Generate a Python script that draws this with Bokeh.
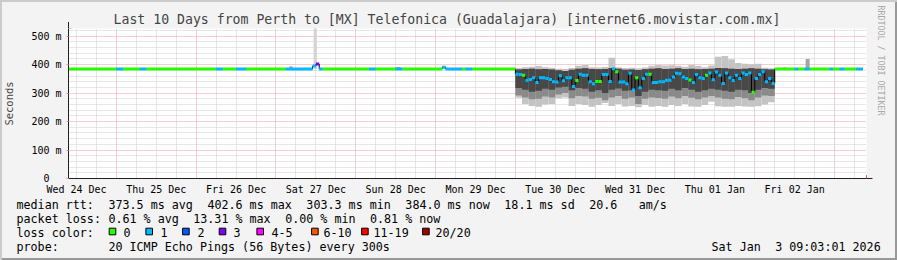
import math
from bokeh.plotting import figure
from bokeh.layouts import column
from bokeh.models import FixedTicker, Range1d, Title, Arrow, NormalHead
from bokeh.core.properties import value
from bokeh.embed import file_html
from bokeh.resources import INLINE

# ---------------- data ----------------
TITLE = "Last 10 Days from Perth to [MX] Telefonica (Guadalajara) [internet6.movistar.com.mx]"
Y_LABEL = "Seconds"
DAY_LABELS = ["Wed 24 Dec", "Thu 25 Dec", "Fri 26 Dec", "Sat 27 Dec", "Sun 28 Dec",
              "Mon 29 Dec", "Tue 30 Dec", "Wed 31 Dec", "Thu 01 Jan", "Fri 02 Jan"]
Y_TICKS = [0, 100, 200, 300, 400, 500]
Y_TICK_LABELS = ["0\u00a0\u00a0", "100 m", "200 m", "300 m", "400 m", "500 m"]

# time = hours since Wed 24 Dec 00:00 (local); rtt in ms
T_START = 9.6
T_END = 249.6
Y_MAX = 527

# quiet periods: median rtt segments with loss count (of 20 pings)
quiet_start = [9.6, 24, 26, 31, 33, 54, 56, 60, 63, 75, 83, 84, 85, 86, 100, 102, 108, 110,
               122, 123, 124, 128, 129, 131,
               222, 228, 229, 231, 232.5, 238.5, 239.5, 241.5, 243, 246.5]
quiet_end = [24, 26, 31, 33, 54, 56, 60, 63, 75, 83, 84, 85, 86, 100, 102, 108, 110, 122,
             123, 124, 128, 129, 131, 144,
             228, 229, 231, 232.5, 238.5, 239.5, 241.5, 243, 246.5, 248.5]
quiet_rtt = [385, 385, 385, 385, 385, 385, 385, 385, 385, 385, 395, 402, 385, 385, 385, 385, 385, 385,
             391, 385, 385, 385, 385, 385,
             385, 385, 385, 385, 385, 385, 385, 385, 385, 385]
quiet_loss = [0, 1, 0, 1, 0, 1, 0, 1, 0, 1, 1, 3, 1, 0, 1, 0, 1, 0,
              1, 1, 1, 0, 1, 0,
              0, 1, 0, 1, 0, 1, 0, 1, 0, 1]

# occasional ping outliers during quiet periods
spike_start = [76, 83.3, 108, 224.4, 231.3]
spike_end = [77, 84.3, 109.5, 225.3, 232.5]
spike_low = [385, 385, 385, 385, 385]
spike_high = [394, 560, 392, 391, 420]

# degraded period: hourly medians from hour 144 (Tue 30 Dec 00:00)
DEG_START = 144
deg_rtt = [366, 365, 363, 345, 348, 354, 337, 354, 354, 351,
           348, 340, 339, 361, 343, 354, 354, 323, 344, 366,
           363, 363, 340, 333, 341, 341, 365, 365, 341, 386,
           375, 339, 339, 333, 370, 311, 354, 319, 351, 366,
           366, 337, 337, 340, 340, 345, 345, 357, 370, 368,
           357, 351, 346, 337, 365, 354, 351, 363, 371, 347,
           374, 363, 334, 371, 354, 344, 363, 351, 371, 365,
           371, 303, 351, 365, 375, 340, 351, 334]
deg_loss = [1, 1, 0, 1, 1, 1, 1, 1, 1, 1,
            1, 1, 1, 1, 1, 1, 1, 1, 0, 1,
            1, 1, 1, 1, 0, 0, 1, 1, 1, 1,
            0, 1, 1, 1, 1, 1, 0, 1, 1, 1,
            0, 1, 1, 1, 1, 1, 1, 1, 1, 1,
            1, 1, 0, 1, 1, 1, 1, 0, 1, 1,
            1, 1, 1, 1, 1, 1, 1, 1, 1, 1,
            1, 0, 1, 1, 1, 1, 1, 1]

# smoke (ping distribution) in 2-hour columns from hour 144
SMOKE_STEP = 2
smoke_min = [284, 262, 255, 252, 260, 262, 282, 285, 255, 262, 258, 252, 258, 265, 255, 262, 253, 255, 250, 258,
             252, 255, 252, 258, 255, 262, 253, 252, 258, 270, 254, 252, 252, 255, 253, 252, 254, 260, 268]
smoke_p10 = [292, 285, 278, 280, 288, 285, 295, 300, 282, 290, 288, 280, 284, 275, 285, 290, 280, 285, 262, 280,
             285, 283, 280, 288, 282, 290, 284, 278, 285, 290, 285, 280, 278, 286, 282, 275, 285, 292, 290]
smoke_p25 = [318, 312, 305, 308, 315, 312, 320, 322, 310, 318, 315, 305, 310, 300, 312, 316, 308, 310, 290, 305,
             312, 310, 308, 315, 310, 318, 312, 305, 310, 315, 312, 308, 305, 312, 310, 300, 312, 318, 315]
smoke_p90 = [383, 385, 386, 384, 385, 383, 380, 378, 382, 386, 387, 385, 384, 385, 388, 386, 382, 383, 381, 384,
             386, 387, 385, 386, 387, 385, 386, 384, 385, 386, 388, 387, 386, 385, 386, 387, 386, 384, 383]
smoke_max = [388, 391, 393, 395, 391, 389, 386, 385, 388, 396, 399, 391, 390, 392, 424, 391, 388, 389, 387, 390,
             396, 399, 397, 398, 396, 393, 399, 395, 391, 397, 428, 430, 419, 406, 403, 401, 403, 389, 387]

# loss colour classes
LOSS_LIMITS = [0, 1, 2, 3, 5, 10, 19, 20]
LOSS_COLORS = ["#26ff00", "#00b8ff", "#0059ff", "#7e00ff", "#ff00ff", "#ff5500", "#ff0000", "#a00000"]
LOSS_NAMES = ["0", "1", "2", "3", "4-5", "6-10", "11-19", "20/20"]

LEGEND_RTT = ["median rtt:", "373.5 ms avg", "402.6 ms max", "303.3 ms min", "384.0 ms now",
              "18.1 ms sd", "20.6", "am/s"]
LEGEND_LOSS = ["packet loss:", "0.61 % avg", "13.31 % max", "0.00 % min", "0.81 % now"]
LEGEND_PROBE = ["probe:", "20 ICMP Echo Pings (56 Bytes) every 300s"]
STAMP = ["Sat Jan", "3 09:03:01 2026"]
WATERMARK = "RRDTOOL / TOBI OETIKER"

# ---------------- style ----------------
MONO = "DejaVu Sans Mono"
BG = "#f3f3f3"
AXIS = "#202020"
ARROW = "#8b1010"
MGRID = "#ee9c9c"
GRID = "#cfcfcf"
SMOKE_LIGHT = "#c4c4c4"
SMOKE_MED = "#8a8a8a"
SMOKE_DARK = "#484848"


def loss_color(n):
    for lim, c in zip(LOSS_LIMITS, LOSS_COLORS):
        if n <= lim:
            return c
    return LOSS_COLORS[-1]


# combined median segments
segs = list(zip(quiet_start, quiet_end, quiet_rtt, quiet_loss))
for i, (r, l) in enumerate(zip(deg_rtt, deg_loss)):
    segs.append((DEG_START + i, DEG_START + i + 1, r, l))
segs.sort(key=lambda s: s[0])

p = figure(width=897, height=198, x_range=Range1d(T_START, T_END), y_range=Range1d(0, Y_MAX),
           output_backend="svg", toolbar_location=None,
           min_border_left=67, min_border_right=30, min_border_top=28, min_border_bottom=20)
p.frame_align = False
p.background_fill_color = "white"
p.border_fill_color = None
p.outline_line_color = None

p.title.text = TITLE
p.title.align = "left"
p.title.offset = 45
p.title.text_font = MONO
p.title.text_font_size = "13.2px"
p.title.text_font_style = "normal"
p.title.standoff = 3

# grid
p.xgrid.ticker = FixedTicker(ticks=[24 * d for d in range(1, 11)],
                             minor_ticks=[6 * k for k in range(1, 42) if k % 4 != 0])
p.ygrid.ticker = FixedTicker(ticks=[100, 200, 300, 400, 500],
                             minor_ticks=[20 * k for k in range(1, 27) if k % 5 != 0])
for g in (p.xgrid, p.ygrid):
    g.grid_line_color = MGRID
    g.grid_line_dash = "1 1"
    g.minor_grid_line_color = GRID
    g.minor_grid_line_dash = "1 1"

# axes
p.xaxis.ticker = FixedTicker(ticks=[12 + 24 * d for d in range(10)], minor_ticks=[])
p.xaxis.major_label_overrides = {12 + 24 * d: DAY_LABELS[d] for d in range(10)}
p.xaxis.major_tick_out = 0
p.xaxis.major_tick_in = 0
p.xaxis.major_label_standoff = 5
p.yaxis.ticker = FixedTicker(ticks=Y_TICKS, minor_ticks=[])
p.yaxis.major_label_overrides = {t: s for t, s in zip(Y_TICKS, Y_TICK_LABELS)}
p.yaxis.major_tick_out = 2
p.yaxis.major_tick_in = 0
p.yaxis.major_tick_line_color = MGRID
p.yaxis.major_label_standoff = 5
p.yaxis.axis_label = Y_LABEL
p.yaxis.axis_label_text_font = MONO
p.yaxis.axis_label_text_font_size = "10.5px"
p.yaxis.axis_label_text_font_style = "normal"
p.yaxis.axis_label_standoff = 13
for ax in (p.xaxis, p.yaxis):
    ax.axis_line_color = AXIS
    ax.minor_tick_line_color = None
    ax.major_label_text_font = MONO
    ax.major_label_text_font_size = "10px"
    ax.major_label_text_color = "black"

# smoke
sl = [DEG_START + SMOKE_STEP * i for i in range(len(smoke_min))]
sr = [x + SMOKE_STEP for x in sl]
p.quad(left=sl, right=sr, bottom=smoke_min, top=smoke_max, fill_color=SMOKE_LIGHT, line_color=None)
p.quad(left=sl, right=sr, bottom=smoke_p10, top=smoke_p90, fill_color=SMOKE_MED, line_color=None)
p.quad(left=sl, right=sr, bottom=smoke_p25, top=smoke_p90, fill_color=SMOKE_DARK, line_color=None)
p.quad(left=spike_start, right=spike_end, bottom=spike_low, top=spike_high,
       fill_color=["#a8a8a8", "#d4d4d4", "#a8a8a8", "#b0b0b0", "#a4a4a4"], line_color=None)

# median (black step line + loss coloured segments)
mx, my = [], []
for s, e, r, l in segs:
    mx += [s, e]
    my += [r, r]
p.line(mx, my, line_color="black", line_width=1)
p.segment(x0=[s[0] for s in segs], x1=[s[1] for s in segs], y0=[s[2] for s in segs], y1=[s[2] for s in segs],
          line_color=[loss_color(s[3]) for s in segs], line_width=3, line_cap="butt")

# axis arrows
p.add_layout(Arrow(end=NormalHead(size=6, fill_color=ARROW, line_color=ARROW), x_start=T_END, y_start=0,
                   x_end=T_END + 1.8, y_end=0, line_color=AXIS, line_width=1))
p.add_layout(Arrow(end=NormalHead(size=6, fill_color=ARROW, line_color=ARROW), x_start=T_START, y_start=Y_MAX,
                   x_end=T_START, y_end=Y_MAX + 23, line_color=AXIS, line_width=1))

# watermark on the right
p.add_layout(Title(text=WATERMARK, align="left", offset=-23, standoff=19, text_font=MONO,
                   text_font_size="8.3px", text_font_style="normal", text_color="#a8a8a8"), "right")

# ---------------- legend panel ----------------
p2 = figure(width=897, height=62, x_range=Range1d(0, 897), y_range=Range1d(260, 198),
            output_backend="svg", toolbar_location=None,
            min_border_left=0, min_border_right=0, min_border_top=0, min_border_bottom=0)
p2.frame_align = False
p2.xaxis.visible = False
p2.yaxis.visible = False
p2.xgrid.visible = False
p2.ygrid.visible = False
p2.background_fill_color = None
p2.border_fill_color = None
p2.outline_line_color = None

CW = 7.07
X0 = 16
tx, ty, tt = [], [], []
for txt, col in zip(LEGEND_RTT, [0, 13, 27, 41, 55, 69, 81, 88]):
    tx.append(X0 + CW * col); ty.append(204); tt.append(txt)
for txt, col in zip(LEGEND_LOSS, [0, 13, 25, 38, 50]):
    tx.append(X0 + CW * col); ty.append(218); tt.append(txt)
tx.append(X0); ty.append(232); tt.append("loss color:")
for txt, col in zip(LEGEND_PROBE, [0, 13]):
    tx.append(X0 + CW * col); ty.append(246); tt.append(txt)
box_left = [108.3, 145, 181.7, 218.3, 256, 310.7, 360.7, 421.7]
name_left = [123, 160, 197, 233, 271, 323, 373, 435]
for txt, x in zip(LOSS_NAMES, name_left):
    tx.append(x); ty.append(232); tt.append(txt)
stamp_x0 = 711
tx += [stamp_x0, stamp_x0 + CW * 9]; ty += [246, 246]; tt += STAMP

p2.text(x=tx, y=ty, text=tt, text_font=value(MONO), text_font_size=value("11.7px"),
        text_baseline="middle", text_align="left", text_color="black")
p2.rect(x=[b + 3.7 for b in box_left], y=[231] * 8, width=6.6, height=6.6,
        fill_color=LOSS_COLORS, line_color="black", line_width=1)

layout = column(p, p2, spacing=0,
                styles={"background-color": BG,
                        "box-shadow": "inset 2px 2px 0 0 #cbcbcb, inset -2px -2px 0 0 #999999"})
open("out.html", "w").write(file_html(layout, INLINE))
